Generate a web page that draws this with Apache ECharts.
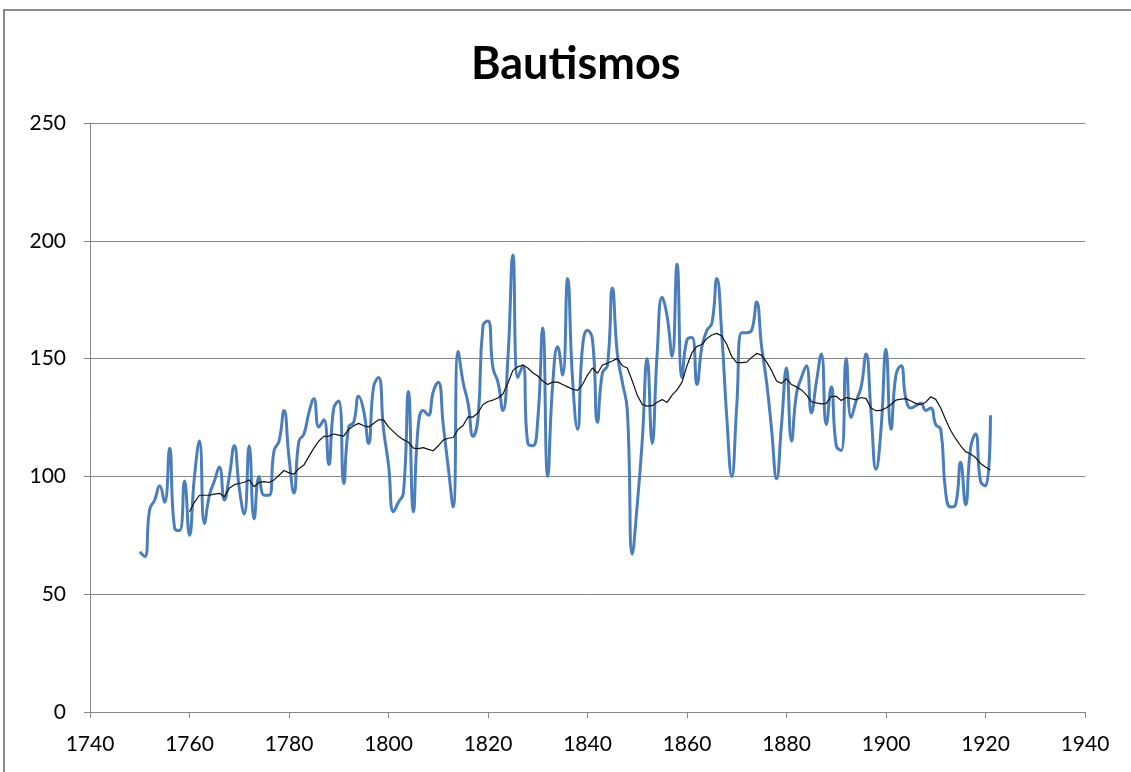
<!DOCTYPE html>
<html>
<head>
<meta charset="utf-8">
<title>Bautismos</title>
<script src="https://cdn.jsdelivr.net/npm/echarts@6/dist/echarts.min.js"></script>
<style>
  html, body { margin: 0; padding: 0; background: #fff; }
  #chart { width: 1131px; height: 772px; }
</style>
</head>
<body>
<div id="chart"></div>
<script>
// bautismos por año, 1750-1921
const firstYear = 1750
const baptisms = [
  68, 66, 86, 90, 96, 89, 112, 78, 77, 98,
  75, 100, 115, 80, 92, 98, 104, 90, 100, 113,
  95, 84, 113, 82, 100, 92, 92, 111, 115, 128,
  108, 93, 115, 118, 127, 133, 121, 124, 105, 129,
  132, 97, 121, 123, 134, 128, 114, 138, 142, 120,
  105, 85, 89, 93, 136, 85, 122, 128, 126, 136,
  140, 122, 104, 87, 153, 140, 131, 117, 125, 164,
  166, 146, 140, 128, 150, 194, 142, 147, 114, 113,
  124, 163, 100, 139, 155, 143, 184, 141, 120, 155,
  162, 158, 123, 144, 147, 180, 152, 140, 128, 67,
  88, 115, 150, 114, 152, 176, 168, 151, 190, 142,
  158, 159, 139, 155, 162, 165, 184, 160, 125, 100,
  130, 161, 161, 162, 174, 155, 140, 120, 99, 122,
  146, 115, 135, 142, 147, 127, 140, 152, 122, 138,
  113, 111, 150, 125, 132, 138, 152, 127, 103, 120,
  154, 120, 143, 147, 133, 129, 130, 131, 128, 129,
  122, 120, 93, 87, 88, 106, 88, 112, 118, 98,
  96, 126
]

// media móvil (10 años), 1760-1921
const avgFirstYear = 1760
const movingAvg = [
  85, 89, 92, 92, 92, 92.5, 92.8, 91.4, 95, 96.5,
  97, 97.5, 98.5, 95.6, 97.5, 97.8, 97.4, 98.5, 100.5, 102.5,
  101.5, 101, 103.4, 104.8, 108.5, 112, 115, 117, 117.1, 118,
  117.5, 117.1, 120, 121.5, 122.5, 121.5, 121, 122.5, 124, 124,
  121, 119, 117, 115.6, 114.5, 112, 111.8, 112.2, 111.5, 110.9,
  113, 115.4, 116.2, 116.5, 120, 121.6, 125.3, 125.2, 127, 130.5,
  131.8, 132.4, 133.3, 135, 139.5, 145, 146.5, 147.3, 146, 144,
  142.6, 140.5, 139, 140, 140, 139, 138, 137, 136.5, 139,
  143, 146, 143.7, 147.3, 148, 149, 150.1, 147, 146, 140.5,
  134.5, 130.5, 129.8, 130, 131.5, 132.6, 131.4, 134.5, 136.7, 140,
  147, 152.5, 155.2, 156, 158.5, 160, 160.7, 159.6, 156, 150.8,
  148.3, 148.3, 148.5, 150.5, 152.2, 151.5, 148.5, 145, 140.5, 139.5,
  141.5, 139, 138, 136.7, 134.6, 131.7, 131.2, 130.8, 131, 134,
  134, 132.2, 133.5, 133, 132.5, 133.5, 133, 129, 127.9, 128,
  129, 130.5, 132.4, 132.8, 133, 132, 131, 130.5, 131.5, 133.8,
  132.7, 129, 124, 119.5, 116, 113, 110.5, 109.5, 108, 105.5,
  104, 102.7
]

const xMin = 1740
const xMax = 1940
const xStep = 20
const yMin = 0
const yMax = 250
const yStep = 50

const toPairs = (start, values) => values.map((v, i) => [start + i, v])

const chart = echarts.init(document.getElementById('chart'), null, { renderer: 'canvas' })

const option = {
  backgroundColor: '#fff',
  animation: false,
  title: {
    text: 'Bautismos',
    left: 466,
    top: 37,
    textStyle: {
      fontFamily: 'Lato',
      fontSize: 45,
      fontWeight: 'bold',
      color: '#000'
    }
  },
  graphic: [
    {
      type: 'rect',
      shape: { x: 4, y: 10, width: 1200, height: 820 },
      style: { fill: 'none', stroke: '#8a8a8a', lineWidth: 2 },
      silent: true
    }
  ],
  grid: {
    left: 90,
    right: 46,
    top: 123,
    bottom: 60,
    containLabel: false
  },
  xAxis: {
    type: 'value',
    min: xMin,
    max: xMax,
    interval: xStep,
    axisLine: { show: true, lineStyle: { color: '#868686', width: 1 } },
    axisTick: { show: true, length: 6, lineStyle: { color: '#868686' } },
    splitLine: { show: false },
    axisLabel: {
      margin: 22,
      fontFamily: 'Lato',
      fontSize: 21,
      color: '#000',
      formatter: v => String(v)
    }
  },
  yAxis: {
    type: 'value',
    min: yMin,
    max: yMax,
    interval: yStep,
    axisLine: { show: true, lineStyle: { color: '#868686', width: 1 } },
    axisTick: { show: true, length: 6, lineStyle: { color: '#868686' } },
    splitLine: { show: true, lineStyle: { color: '#868686', width: 1 } },
    axisLabel: {
      margin: 24,
      fontFamily: 'Lato',
      fontSize: 21,
      color: '#000'
    }
  },
  series: [
    {
      name: 'Bautismos',
      type: 'line',
      data: toPairs(firstYear, baptisms),
      smooth: 0.5,
      showSymbol: false,
      lineStyle: { color: '#4a7ebb', width: 3 },
      z: 2
    },
    {
      name: 'Media móvil',
      type: 'line',
      data: toPairs(avgFirstYear, movingAvg),
      smooth: false,
      showSymbol: false,
      lineStyle: { color: '#111', width: 1.2 },
      z: 3
    }
  ]
}

chart.setOption(option)
</script>
</body>
</html>
